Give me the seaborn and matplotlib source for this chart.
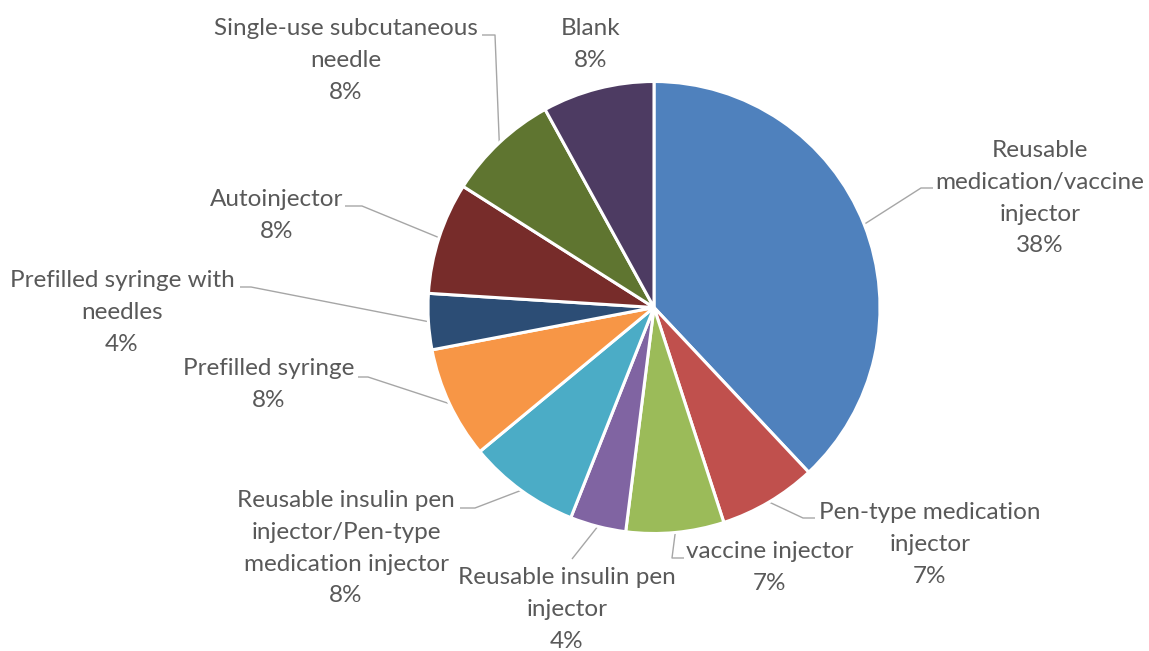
import matplotlib
matplotlib.use("Agg")
import matplotlib.pyplot as plt
import seaborn as sns
import numpy as np

# Injector types, in clockwise order starting at 12 o'clock
categories = [
    "Reusable\nmedication/vaccine\ninjector",
    "Pen-type medication\ninjector",
    "vaccine injector",
    "Reusable insulin pen\ninjector",
    "Reusable insulin pen\ninjector/Pen-type\nmedication injector",
    "Prefilled syringe",
    "Prefilled syringe with\nneedles",
    "Autoinjector",
    "Single-use subcutaneous\nneedle",
    "Blank",
]
shares = [38, 7, 7, 4, 8, 8, 4, 8, 8, 8]
colors = ["#4F81BD", "#C0504D", "#9BBB59", "#8064A2", "#4BACC6",
          "#F79646", "#2C4D75", "#772C2A", "#5F7530", "#4D3B62"]

# Label placement in figure pixels: (text centre x, first-line baseline y,
# leader attach point at the text, elbow point)
label_pos = [
    (1040, 157, (933, 188), (921, 188)),
    (930, 519, (815, 518), (803, 518)),
    (770, 558, (684, 558), (672, 558)),
    (567, 584, (572, 559), None),
    (346, 507, (460, 508), (475, 508)),
    (269, 375, (358, 377), (368, 377)),
    (122, 287, (240, 287), (251, 287)),
    (277, 206, (345, 206), (362, 206)),
    (346, 35, (482, 35), (495, 35)),
    (591, 35, None, None),
]
LINE_PX = 31.8

sns.set_theme(style="white")
plt.rcParams["font.family"] = ["Lato", "DejaVu Sans"]

W, H = 1149, 651
fig = plt.figure(figsize=(W / 100, H / 100), dpi=100)
ax = fig.add_axes([0, 0, 1, 1])

center = (654, 307.5)
radius = 226
# y axis runs downward, so counter-clockwise in data is clockwise on screen
wedges, _ = ax.pie(
    shares, colors=colors, startangle=-90, counterclock=True,
    center=center, radius=radius, normalize=True,
    wedgeprops=dict(edgecolor="white", linewidth=2.2),
)
ax.set_xlim(0, W)
ax.set_ylim(H, 0)
ax.set_aspect("auto")
ax.axis("off")

text_color = "#595959"
line_color = "#A6A6A6"

for w, name, val, (cx, by, attach, elbow) in zip(wedges, categories, shares, label_pos):
    lines = name.split("\n") + [f"{val}%"]
    # one text per line keeps the spacing exact and the line boxes tight
    for i, line in enumerate(lines):
        ax.text(cx, by + i * LINE_PX, line, ha="center", va="baseline",
                fontsize=17.5, color=text_color)
    if attach is None:
        continue
    mid = np.deg2rad((w.theta1 + w.theta2) / 2)
    edge = (center[0] + radius * np.cos(mid), center[1] + radius * np.sin(mid))
    pts = [edge] + ([elbow] if elbow is not None else []) + [attach]
    xs, ys = zip(*pts)
    ax.plot(xs, ys, color=line_color, lw=1.0, solid_capstyle="butt", zorder=0.5)

fig.savefig("out.png", dpi=100, facecolor="white")
